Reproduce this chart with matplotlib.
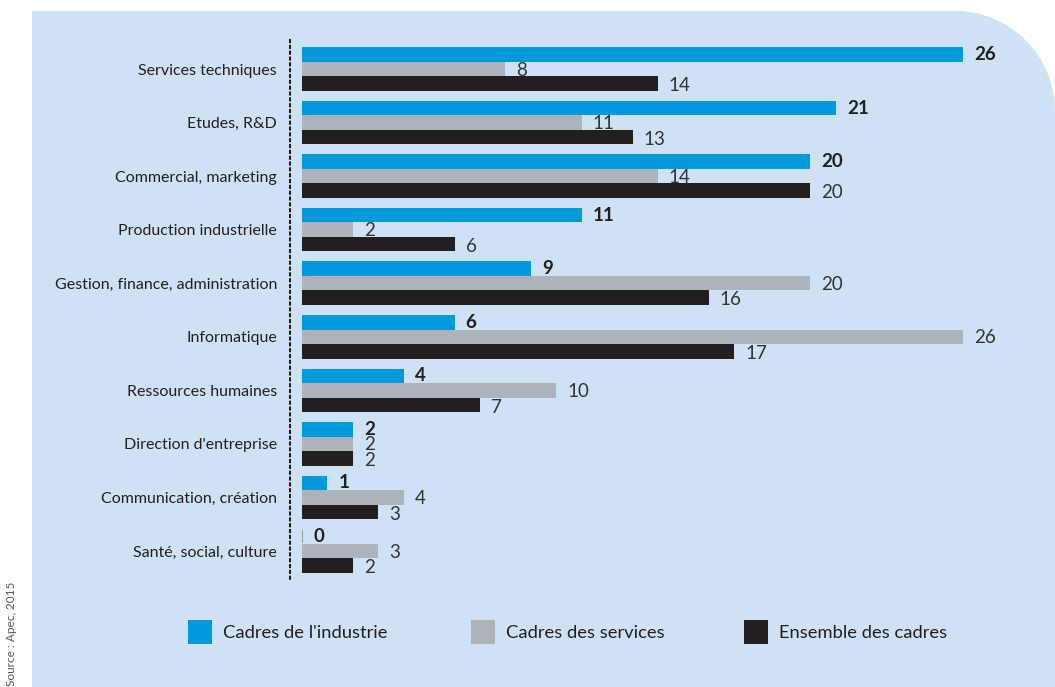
import numpy as np
import matplotlib
matplotlib.use("Agg")
import matplotlib.pyplot as plt
from matplotlib.path import Path
from matplotlib.patches import PathPatch, Rectangle

plt.rcParams['font.family'] = ['Lato', 'DejaVu Sans']

# data (%)
categories = ["Services techniques", "Etudes, R&D", "Commercial, marketing",
              "Production industrielle", "Gestion, finance, administration",
              "Informatique", "Ressources humaines", "Direction d'entreprise",
              "Communication, création", "Santé, social, culture"]
industrie = [26, 21, 20, 11, 9, 6, 4, 2, 1, 0]
services = [8, 11, 14, 2, 20, 26, 10, 2, 4, 3]
ensemble = [14, 13, 20, 6, 16, 17, 7, 2, 3, 2]
series_names = ["Cadres de l'industrie", "Cadres des services", "Ensemble des cadres"]

c_blue = "#0099d9"
c_gray = "#adb3ba"
c_black = "#231f20"
c_bg = "#cfe2f5"
c_text = "#231f20"

W, H = 1055, 687
fig = plt.figure(figsize=(W / 100, H / 100), dpi=100)

# background panel, rounded only at top right
bg = fig.add_axes([0, 0, 1, 1])
bg.set_xlim(0, W)
bg.set_ylim(H, 0)
bg.axis("off")
r = 100
x0, y0 = 32, 11
t = np.linspace(-np.pi / 2, 0, 40)
arc = np.column_stack([W - r + r * np.cos(t), y0 + r + r * np.sin(t)])
verts = np.vstack([[x0, H], [x0, y0], arc, [W, H], [x0, H]])
bg.add_patch(PathPatch(Path(verts, closed=True), facecolor=c_bg, edgecolor="none"))

bg.text(12, 686, "Source : Apec, 2015", rotation=90, ha="center", va="bottom",
        fontsize=8.5, color="#555555")

# main bars
pitch = 53.56
ytop = 69 - pitch / 2
ax = fig.add_axes([302 / W, 1 - (ytop + 10 * pitch) / H, (963 - 302) / W, 10 * pitch / H])
ax.set_facecolor("none")
ax.set_xlim(0, 26)
ax.set_ylim(9.5, -0.5)

y = np.arange(len(categories))
off = 14.5 / pitch
h = 14.5 / pitch
ax.barh(y - off, industrie, height=h, color=c_blue)
ax.barh(y, services, height=h, color=c_gray)
ax.barh(y + off, ensemble, height=h, color=c_black)

# zero values still get a thin stub
zero = [i for i in range(len(categories)) if industrie[i] == 0]
ax.barh(y[zero] - off, [industrie[i] for i in zero], height=h * 0.95,
        edgecolor="#8a9096", linewidth=1.2, facecolor="none")

u = 26 / (963 - 302)
for i in range(len(categories)):
    ax.text(industrie[i] + 11 * u, y[i] - off, str(industrie[i]), va="center", ha="left",
            fontsize=13.5, fontweight="bold", color=c_text, clip_on=False)
    ax.text(services[i] + 11 * u, y[i] + 0.02, str(services[i]), va="center", ha="left",
            fontsize=13.5, color="#333333", clip_on=False)
    ax.text(ensemble[i] + 11 * u, y[i] + off + 0.04, str(ensemble[i]), va="center", ha="left",
            fontsize=13.5, color="#333333", clip_on=False)

ax.set_yticks(y)
ax.set_yticklabels(categories)
ax.tick_params(axis="y", length=0, pad=9.4, labelsize=11.5, labelcolor=c_text)
ax.set_xticks([])
for s in ["top", "right", "bottom"]:
    ax.spines[s].set_visible(False)
ax.spines["left"].set_position(("outward", 8.6))
ax.spines["left"].set_linestyle((0, (1, 1.8)))
ax.spines["left"].set_linewidth(1.5)
ax.spines["left"].set_color(c_text)
ax.spines["left"].set_bounds(-0.5 - 2 / pitch, 9.5 + 4 / pitch)

# legend
for xs, col, name in [(188, c_blue, series_names[0]), (471, c_gray, series_names[1]),
                      (744, c_black, series_names[2])]:
    bg.add_patch(Rectangle((xs, 620), 24, 24, facecolor=col, edgecolor="none"))
    bg.text(xs + 35, 633, name, ha="left", va="center", fontsize=13.2, color=c_text)

fig.savefig("out.png", dpi=100)
